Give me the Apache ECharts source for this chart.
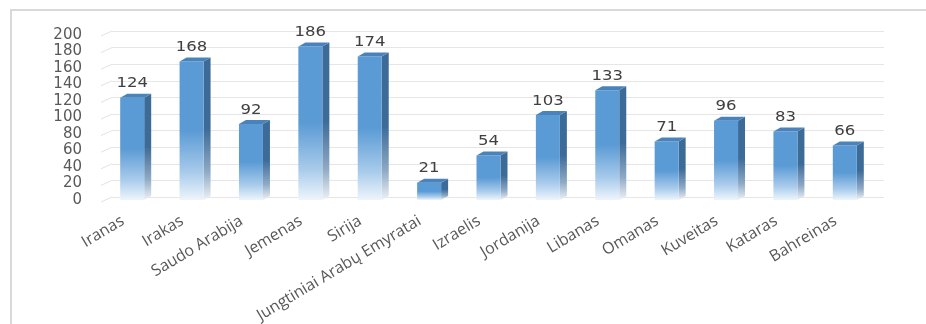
<!DOCTYPE html>
<html>
<head>
<meta charset="utf-8">
<script src="https://cdn.jsdelivr.net/npm/echarts@6/dist/echarts.min.js"></script>
<style>
html,body{margin:0;padding:0;background:#fff;}
#chart{width:926px;height:324px;}
</style>
</head>
<body>
<div id="chart"></div>
<script>
const categories = ['Iranas','Irakas','Saudo Arabija','Jemenas','Sirija','Jungtiniai Arabų Emyratai','Izraelis','Jordanija','Libanas','Omanas','Kuveitas','Kataras','Bahreinas'];
const values = [124,168,92,186,174,21,54,103,133,71,96,83,66];
const yTicks = [0,20,40,60,80,100,120,140,160,180,200];

const FONT = 'DejaVu Sans';
const CATFONT = 'Open Sans';
const chart = echarts.init(document.getElementById('chart'));

function frontFill(){
  return new echarts.graphic.LinearGradient(0,0,0,1,[
    {offset:0,color:'#5b9bd5'},
    {offset:0.5,color:'#5b9bd5'},
    {offset:0.8,color:'#a8cbeb'},
    {offset:1,color:'#eef5fc'}
  ]);
}
function sideFill(){
  return new echarts.graphic.LinearGradient(0,0,0,1,[
    {offset:0,color:'#3d6b98'},
    {offset:0.5,color:'#3d6b98'},
    {offset:0.8,color:'#8ea9c4'},
    {offset:1,color:'#eef2f6'}
  ]);
}

const option = {
  animation:false,
  backgroundColor:'#ffffff',
  graphic:[{
    type:'rect', shape:{x:11,y:10,width:940,height:340},
    style:{fill:'none',stroke:'#d9d9d9',lineWidth:2}, silent:true, z:-10
  }],
  grid:[
    {left:106,right:48,top:35,height:165,outerBoundsMode:'none',containLabel:false},
    {left:112,right:42,top:31,height:166,outerBoundsMode:'none',containLabel:false}
  ],
  xAxis:[
    {type:'category',gridIndex:0,data:categories,
     axisLine:{show:false},axisTick:{show:false},
     axisLabel:{rotate:31,margin:12,interval:0,padding:[0,15,0,0],fontFamily:CATFONT,fontSize:16,color:'#595959'}},
    {type:'value',gridIndex:1,min:0,max:1,show:false}
  ],
  yAxis:[
    {type:'value',gridIndex:0,min:0,max:200,interval:20,
     axisLine:{show:false},axisTick:{show:false},splitLine:{show:false},
     axisLabel:{margin:24,fontFamily:FONT,fontSize:15,color:'#595959'}},
    {type:'value',gridIndex:1,min:0,max:200,interval:20,
     axisLine:{show:false},axisTick:{show:false},axisLabel:{show:false},
     splitLine:{show:true,lineStyle:{color:'#e6e6e6',width:1}}}
  ],
  series:[
    {
      type:'custom', xAxisIndex:1, yAxisIndex:1, silent:true, z:1,
      data: yTicks.map(v=>[0,v]),
      renderItem:function(params,api){
        const p = api.coord([0,api.value(1)]);
        return {type:'line',shape:{x1:p[0]-11,y1:p[1]+5,x2:p[0],y2:p[1]},
          style:{stroke:'#e3e3e3',lineWidth:1}};
      }
    },
    {
      type:'custom', xAxisIndex:0, yAxisIndex:0, silent:true, z:5,
      data: values.map((v,i)=>[i,v]),
      renderItem:function(params,api){
        const i = api.value(0), v = api.value(1);
        const top = api.coord([i,v]);
        const base = api.coord([i,0]);
        const fw = 24, dx = 7, dy = 4;
        const left = top[0] - 15.5;
        const right = left + fw;
        const yt = top[1], yb = base[1];
        return {type:'group',children:[
          {type:'polygon',shape:{points:[[right,yt],[right+dx,yt-dy],[right+dx,yb-dy],[right,yb]]},
           style:{fill:sideFill()}},
          {type:'rect',shape:{x:left,y:yt,width:fw,height:yb-yt},
           style:{fill:frontFill()}},
          {type:'polygon',shape:{points:[[left,yt],[left+dx,yt-dy],[right+dx,yt-dy],[right,yt]]},
           style:{fill:'#4a83bb'}},
          {type:'text',x:left+fw/2,y:yt-14,scaleX:1.18,
           style:{text:String(v),textAlign:'center',textVerticalAlign:'middle',
             font:'14px "'+FONT+'"',fill:'#404040'}}
        ]};
      }
    }
  ]
};
chart.setOption(option);
</script>
</body>
</html>
